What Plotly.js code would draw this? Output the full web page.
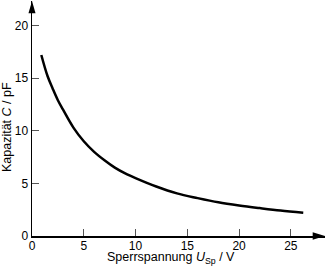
<!DOCTYPE html>
<html>
<head>
<meta charset="utf-8">
<script src="https://cdn.plot.ly/plotly-3.0.1.min.js"></script>
<style>html,body{margin:0;padding:0;background:#fff;}#chart{width:326px;height:267px;}</style>
</head>
<body>
<div id="chart"></div>
<script>
// Sperrspannung U_Sp in V
const voltage = [0.9, 1.5, 2, 2.5, 3, 4, 5, 6, 7, 8, 9, 10, 12, 14, 16, 18, 20, 22, 24, 26.2];
// Kapazität C in pF
const capacitance = [17.2, 15.2, 14.0, 12.9, 12.0, 10.3, 9.0, 8.0, 7.2, 6.5, 5.95, 5.5, 4.7, 4.05, 3.6, 3.2, 2.9, 2.65, 2.42, 2.22];
const xTicks = [0, 5, 10, 15, 20, 25];
const yTicks = [0, 5, 10, 15, 20];
const xTitle = 'Sperrspannung <i>U</i><sub>Sp</sub> / V';
const yTitle = 'Kapazität <i>C</i> / pF';

const font = {family: 'Liberation Sans, Arial, sans-serif', size: 12, color: '#000'};
const titleFont = {family: 'Liberation Sans, Arial, sans-serif', size: 12.5, color: '#000'};

const trace = {
  x: voltage, y: capacitance, type: 'scatter', mode: 'lines',
  line: {color: '#000', width: 2.5, shape: 'spline', smoothing: 1},
  hoverinfo: 'skip'
};

const layout = {
  width: 326, height: 267,
  margin: {l: 32, r: 1, t: 1, b: 31},
  paper_bgcolor: '#fff', plot_bgcolor: '#fff',
  font: font,
  showlegend: false,
  xaxis: {
    range: [0, 28.3], tickvals: xTicks, ticktext: xTicks.map(String),
    ticks: 'inside', ticklen: 7, tickwidth: 1, tickcolor: '#555',
    showline: true, linecolor: '#000', linewidth: 1.5,
    showgrid: false, zeroline: false,
    tickfont: font, ticklabelstandoff: -2
  },
  yaxis: {
    range: [0, 22.33], tickvals: yTicks, ticktext: yTicks.map(String),
    ticks: 'inside', ticklen: 7, tickwidth: 1, tickcolor: '#555',
    showline: true, linecolor: '#000', linewidth: 1.5,
    showgrid: false, zeroline: false,
    tickfont: font
  },
  annotations: [
    {text: xTitle, xref: 'paper', yref: 'paper', x: 0.474, y: -0.134, xanchor: 'center', yanchor: 'bottom', showarrow: false, font: titleFont, borderpad: 0},
    {text: yTitle, xref: 'paper', yref: 'paper', x: -0.085, y: 0.464, xanchor: 'center', yanchor: 'middle', textangle: -90, showarrow: false, font: titleFont}
  ],
  shapes: [
    {type: 'path', xref: 'paper', yref: 'paper', path: 'M 1 0 L 0.958 0.016 L 0.958 -0.016 Z', fillcolor: '#000', line: {width: 0}},
    {type: 'path', xref: 'paper', yref: 'paper', path: 'M 0 1 L 0.012 0.948 L -0.012 0.948 Z', fillcolor: '#000', line: {width: 0}}
  ]
};

Plotly.newPlot('chart', [trace], layout, {displayModeBar: false, staticPlot: true});
</script>
</body>
</html>
